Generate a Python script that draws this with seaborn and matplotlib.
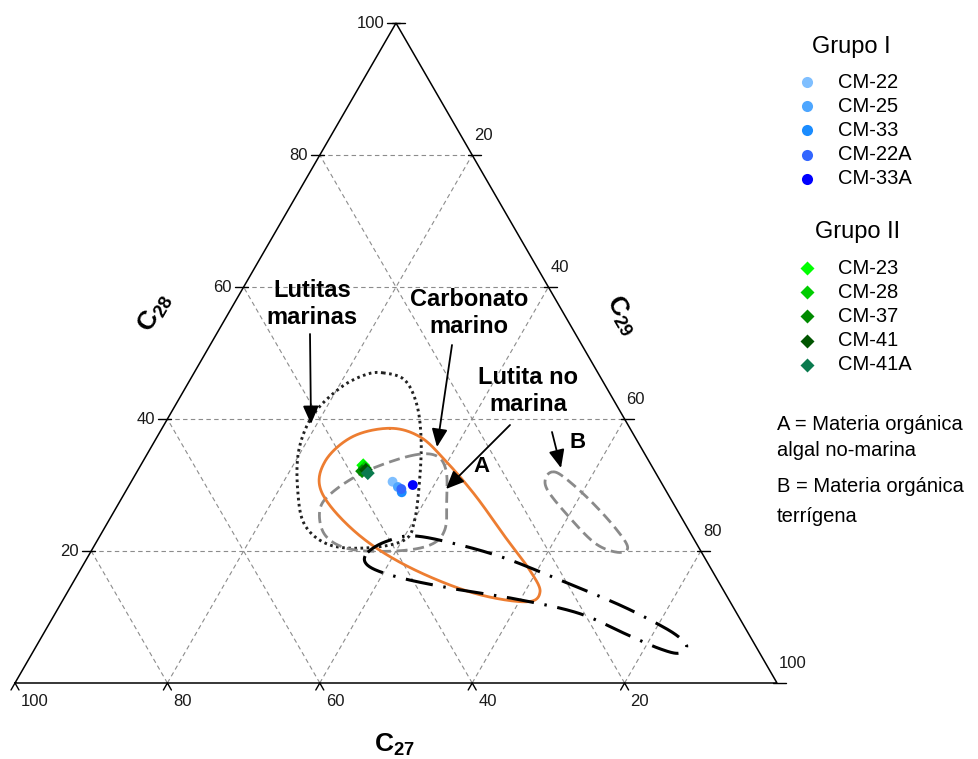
import numpy as np
import pandas as pd
import matplotlib
matplotlib.use("Agg")
import matplotlib.pyplot as plt
from matplotlib.lines import Line2D
import seaborn as sns

# ---------------- data (percent, C27 + C28 + C29 = 100) ----------------
grupo1_muestras = ["CM-22", "CM-25", "CM-33", "CM-22A", "CM-33A"]
grupo1_c27 = [35.2, 34.9, 34.8, 34.6, 32.8]
grupo1_c28 = [30.5, 29.7, 28.9, 29.4, 30.0]
grupo1_c29 = [34.3, 35.4, 36.3, 36.0, 37.2]
grupo1_colores = ["#7fbfff", "#4da6ff", "#1a8cff", "#3366ff", "#0000ff"]

grupo2_muestras = ["CM-23", "CM-28", "CM-37", "CM-41", "CM-41A"]
grupo2_c27 = [37.8, 37.8, 38.4, 37.8, 37.8]
grupo2_c28 = [33.0, 32.6, 32.1, 32.3, 31.8]
grupo2_c29 = [29.2, 29.6, 29.5, 29.9, 30.4]
grupo2_colores = ["#00ff00", "#00cc00", "#008a00", "#005500", "#0a7a4e"]

# region outlines (control points, C28 / C29 in percent)
lutitas_marinas_c28 = [47.0, 45.9, 42.1, 36.8, 30.8, 24.7, 21.7, 20.5, 20.9, 23.9, 29.2, 35.3, 40.6, 44.7, 46.7]
lutitas_marinas_c29 = [24.8, 28.2, 31.7, 34.9, 37.7, 40.1, 40.3, 36.3, 30.9, 26.1, 22.5, 19.6, 18.8, 20.3, 22.6]

lutita_no_marina_c28 = [38.6, 37.3, 33.8, 28.5, 22.1, 17.1, 13.8, 12.3, 13.8, 17.9, 22.9, 28.9, 33.5, 37.3]
lutita_no_marina_c29 = [29.9, 34.5, 39.5, 46.1, 53.3, 59.0, 62.0, 60.8, 52.8, 42.2, 33.2, 25.8, 23.9, 25.6]

carbonato_c28 = [34.4, 34.5, 32.3, 27.7, 23.2, 20.9, 20.0, 20.3, 22.4, 26.2, 28.9, 32.0]
carbonato_c29 = [34.6, 37.9, 40.4, 42.8, 44.8, 44.0, 39.9, 33.8, 29.5, 26.9, 27.2, 29.9]

terrigena_c28 = [32.0, 31.1, 27.7, 23.6, 20.6, 19.8, 21.2, 25.5, 29.2, 31.1]
terrigena_c29 = [54.6, 56.6, 61.6, 66.9, 70.1, 69.2, 65.5, 59.7, 55.3, 54.1]

algal_c28 = [19.8, 21.4, 22.3, 21.1, 18.9, 15.6, 11.8, 8.6, 6.8, 5.5, 4.5, 5.2, 7.1, 10.5, 12.6, 14.1, 15.6, 17.0, 18.3]
algal_c29 = [36.4, 37.9, 41.0, 47.2, 54.9, 63.7, 73.5, 80.6, 83.9, 85.4, 84.8, 82.0, 77.2, 68.9, 60.0, 51.4, 44.0, 39.1, 36.8]

tick_values = [20, 40, 60, 80, 100]

# ---------------- helpers ----------------
H = np.sqrt(3) / 2
W_PX, H_PX = 979, 759
X0_PX, BASE_PX, SCALE = 15, 683, 762.0
P = 1.0 / SCALE  # one pixel in data units


def tern(c28, c29):
    c28 = np.asarray(c28, float) / 100.0
    c29 = np.asarray(c29, float) / 100.0
    return c29 + 0.5 * c28, c28 * H


def pix(px, py):
    return (px - X0_PX) / SCALE, (BASE_PX - py) / SCALE


def smooth_closed(x, y, n=30):
    pts = np.column_stack([x, y])
    m = len(pts)
    out = []
    t = np.linspace(0, 1, n, endpoint=False)[:, None]
    for i in range(m):
        p0, p1, p2, p3 = pts[(i - 1) % m], pts[i], pts[(i + 1) % m], pts[(i + 2) % m]
        seg = 0.5 * (2 * p1 + (-p0 + p2) * t + (2 * p0 - 5 * p1 + 4 * p2 - p3) * t ** 2
                     + (-p0 + 3 * p1 - 3 * p2 + p3) * t ** 3)
        out.append(seg)
    out.append(pts[:1])
    c = np.vstack(out)
    return c[:, 0], c[:, 1]


# ---------------- style ----------------
sns.set_style("white")
plt.rcParams["font.family"] = ["Liberation Sans", "DejaVu Sans"]
plt.rcParams["text.color"] = "black"
plt.rcParams["mathtext.fontset"] = "custom"
plt.rcParams["mathtext.rm"] = "Liberation Sans"
plt.rcParams["mathtext.bf"] = "Liberation Sans:bold"

fig = plt.figure(figsize=(W_PX / 100, H_PX / 100), dpi=100)
ax = fig.add_axes([0, 0, 1, 1])
ax.set_xlim(-X0_PX / SCALE, (W_PX - X0_PX) / SCALE)
ax.set_ylim(-(H_PX - BASE_PX) / SCALE, BASE_PX / SCALE)
ax.set_axis_off()

grid_kw = dict(color="#8c8c8c", lw=0.8, ls=(0, (4, 3)), zorder=1)
for v in [20, 40, 60, 80]:
    # C28 = v (horizontal)
    xa, ya = tern([v, v], [0, 100 - v])
    ax.plot(xa, ya, **grid_kw)
    # C29 = v
    xa, ya = tern([0, 100 - v], [v, v])
    ax.plot(xa, ya, **grid_kw)
    # C27 = v
    xa, ya = tern([0, 100 - v], [100 - v, 0])
    ax.plot(xa, ya, **grid_kw)

# triangle
xa, ya = tern([0, 0, 100, 0], [0, 100, 0, 0])
ax.plot(xa, ya, color="black", lw=1.1, zorder=3, solid_joinstyle="miter")

tick_kw = dict(color="black", lw=1.0, zorder=3, clip_on=False)
lab_kw = dict(fontsize=12, color="#1a1a1a")
# left edge (C28)
for v in tick_values:
    x, y = tern(v, 0)
    ax.plot([x - 9 * P, x + 4 * P], [y, y], **tick_kw)
    ax.text(x - 12 * P, y, str(v), ha="right", va="center", **lab_kw)
# right edge (C29)
for v in [0] + tick_values:
    x, y = tern(100 - v, v)
    ax.plot([x - 4 * P, x + 9 * P], [y, y], **tick_kw)
    if v > 0:
        ax.text(x + 2 * P, y + 20 * P, str(v), ha="left", va="center", **lab_kw)
# bottom edge (C27)
for v in tick_values:
    x, y = tern(0, 100 - v)
    ax.plot([x - 4 * P, x, x + 4 * P], [y - 7 * P, y, y - 7 * P], **tick_kw)
    ax.text(x + 6 * P, y - 18 * P, str(v), ha="left", va="center", **lab_kw)

# axis titles
ax.text(*pix(394, 745), r"$\mathbf{C_{27}}$", fontsize=19, ha="center", va="center")
ax.text(*pix(155, 313), r"$\mathbf{C_{28}}$", fontsize=19, ha="center", va="center",
        rotation=60, rotation_mode="anchor")
ax.text(*pix(622, 315), r"$\mathbf{C_{29}}$", fontsize=19, ha="center", va="center",
        rotation=-60, rotation_mode="anchor")

# regions
x, y = smooth_closed(*tern(lutitas_marinas_c28, lutitas_marinas_c29))
ax.plot(x, y, color="#222222", lw=2.1, ls=(0, (0.9, 1.2)), zorder=4)
x, y = smooth_closed(*tern(carbonato_c28, carbonato_c29))
ax.plot(x, y, color="#8a8a8a", lw=2.0, ls=(0, (4, 2)), zorder=4)
x, y = smooth_closed(*tern(terrigena_c28, terrigena_c29))
ax.plot(x, y, color="#8a8a8a", lw=2.0, ls=(0, (4, 2)), zorder=4)
x, y = smooth_closed(*tern(lutita_no_marina_c28, lutita_no_marina_c29))
ax.plot(x, y, color="#ed7d31", lw=2.0, zorder=4)
x, y = smooth_closed(*tern(algal_c28, algal_c29))
ax.plot(x, y, color="black", lw=2.2, ls=(0, (9, 3.5, 0.8, 3.5)), zorder=4)

# samples
df = pd.DataFrame({
    "Muestra": grupo1_muestras + grupo2_muestras,
    "Grupo": ["Grupo I"] * len(grupo1_muestras) + ["Grupo II"] * len(grupo2_muestras),
    "C28": grupo1_c28 + grupo2_c28,
    "C29": grupo1_c29 + grupo2_c29,
})
df["x"], df["y"] = tern(df["C28"], df["C29"])
palette = dict(zip(grupo1_muestras + grupo2_muestras, grupo1_colores + grupo2_colores))
sns.scatterplot(data=df, x="x", y="y", hue="Muestra", palette=palette, style="Grupo",
                markers={"Grupo I": "o", "Grupo II": "D"}, s=50, linewidth=0,
                legend=False, ax=ax, zorder=6)
ax.set_xlabel("")
ax.set_ylabel("")

# annotations
ann_kw = dict(fontsize=17, fontweight="bold", ha="center", va="center", linespacing=1.2,
              color="black")
ax.text(*pix(312, 304), "Lutitas\nmarinas", **ann_kw)
ax.text(*pix(469, 313), "Carbonato\nmarino", **ann_kw)
ax.text(*pix(528, 391), "Lutita no\nmarina", **ann_kw)
ax.text(*pix(482, 467), "A", fontsize=16, fontweight="bold", ha="center", va="center")
ax.text(*pix(578, 443), "B", fontsize=16, fontweight="bold", ha="center", va="center")

arrow = dict(arrowstyle="-|>,head_length=0.55,head_width=0.24", color="black", lw=1.3,
             mutation_scale=20, shrinkA=0, shrinkB=0)
for start, end in [((310, 334), (311, 424)), ((452, 345), (437, 447)),
                   ((510, 425), (446, 489)), ((552, 432), (561, 468))]:
    ax.annotate("", xy=pix(*end), xytext=pix(*start), arrowprops=arrow, zorder=7)


# legend (manual)
def fxy(px, py):
    return px / W_PX, 1 - py / H_PX


fig.text(*fxy(812, 47), "Grupo I", fontsize=17, ha="left", va="center")
for i, (name, col) in enumerate(zip(grupo1_muestras, grupo1_colores)):
    py = 82 + i * 24.2
    fig.add_artist(Line2D([fxy(807, py)[0]], [fxy(807, py)[1]], marker="o", ms=8,
                          color=col, mec="none", ls="none", transform=fig.transFigure))
    fig.text(*fxy(838, py), name, fontsize=14.5, ha="left", va="center")

fig.text(*fxy(815, 232), "Grupo II", fontsize=17, ha="left", va="center")
for i, (name, col) in enumerate(zip(grupo2_muestras, grupo2_colores)):
    py = 268 + i * 24.2
    fig.add_artist(Line2D([fxy(807, py)[0]], [fxy(807, py)[1]], marker="D", ms=7.5,
                          color=col, mec="none", ls="none", transform=fig.transFigure))
    fig.text(*fxy(838, py), name, fontsize=14.5, ha="left", va="center")

fig.text(*fxy(777, 425), "A = Materia orgánica", fontsize=14.5, ha="left", va="center")
fig.text(*fxy(777, 451), "algal no-marina", fontsize=14.5, ha="left", va="center")
fig.text(*fxy(777, 486), "B = Materia orgánica", fontsize=14.5, ha="left", va="center")
fig.text(*fxy(777, 517), "terrígena", fontsize=14.5, ha="left", va="center")

fig.savefig("out.png", dpi=100)
